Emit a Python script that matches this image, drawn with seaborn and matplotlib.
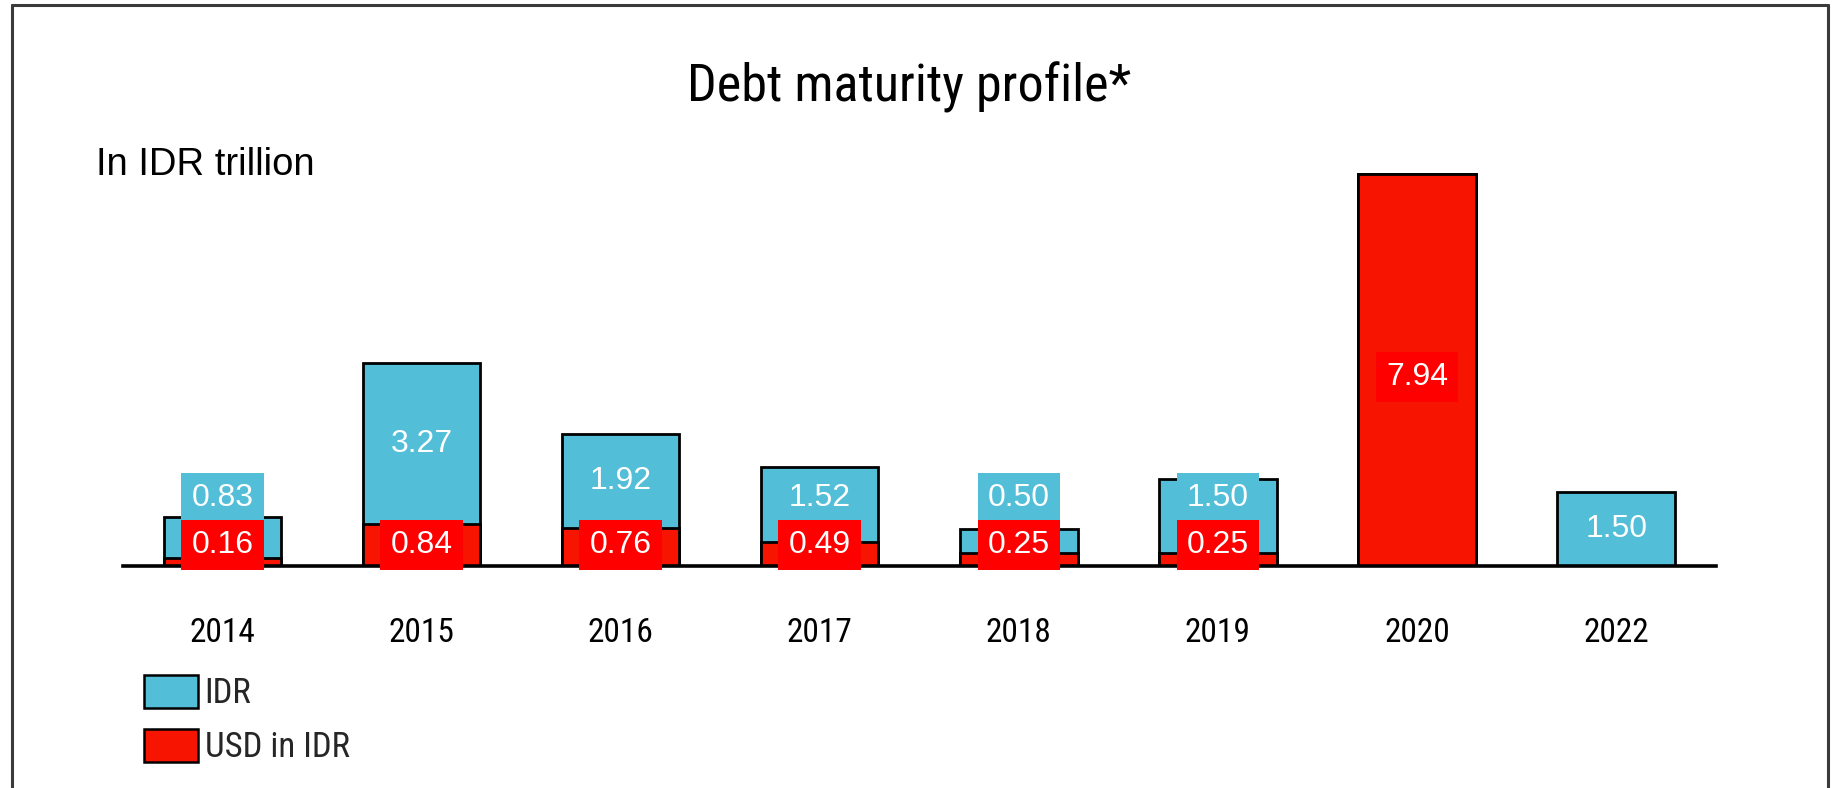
import matplotlib
matplotlib.use("Agg")
import matplotlib.pyplot as plt
import seaborn as sns
import pandas as pd
from matplotlib.lines import Line2D
from matplotlib.patches import Patch

# ---- data ----
years = ["2014", "2015", "2016", "2017", "2018", "2019", "2020", "2022"]
idr = [0.83, 3.27, 1.92, 1.52, 0.50, 1.50, 0.00, 1.50]
usd = [0.16, 0.84, 0.76, 0.49, 0.25, 0.25, 7.94, 0.00]
series_names = ["IDR", "USD in IDR"]
title = "Debt maturity profile*"
unit_label = "In IDR trillion"

CYAN = "#52BED8"
RED_BAR = "#F71400"
RED_LBL = "#FF0000"
NARROW = ["Liberation Sans Narrow", "Roboto Condensed", "Archivo Narrow",
          "PT Sans Narrow", "Pragati Narrow", "Open Sans Condensed", "DejaVu Sans"]
REGULAR = ["Liberation Sans", "DejaVu Sans"]

df = pd.DataFrame({"year": years, "idr": idr, "usd": usd})
df["total"] = df["idr"] + df["usd"]

sns.set_theme(style="white")
plt.rcParams["font.family"] = REGULAR

fig = plt.figure(figsize=(18.33, 7.88), dpi=100)
ax = fig.add_axes([0.067, 0.282, 0.869, 0.501])

sns.barplot(data=df, x="year", y="total", order=years, color=CYAN, saturation=1,
            width=0.59, edgecolor="black", linewidth=2, ax=ax, zorder=2)
sns.barplot(data=df, x="year", y="usd", order=years, color=RED_BAR, saturation=1,
            width=0.59, edgecolor="black", linewidth=2, ax=ax, zorder=3)

ax.set_xlim(-0.5, 7.5)
ax.set_ylim(0, 8)
ax.set_xlabel("")
ax.set_ylabel("")
ax.set_yticks([])
for s in ["left", "right", "top"]:
    ax.spines[s].set_visible(False)
ax.spines["bottom"].set_linewidth(2.6)
ax.spines["bottom"].set_color("black")
ax.spines["bottom"].set_zorder(5)
ax.tick_params(axis="x", length=0, pad=37)
for lbl in ax.get_xticklabels():
    lbl.set_fontfamily(NARROW)
    lbl.set_fontsize(24)
    lbl.set_color("black")

# value labels
RED_LABEL_Y = 0.42
for i, (a, b) in enumerate(zip(idr, usd)):
    box = dict(boxstyle="square,pad=0.32", ec="none")
    if b > 0:
        yb = max(b / 2, RED_LABEL_Y) if b < 2 else b / 2 - 0.15
        ax.text(i, yb, f"{b:.2f}", ha="center", va="center", color="white",
                fontsize=23, zorder=7, bbox=dict(box, fc=RED_LBL))
    if a > 0:
        mid = b + a / 2
        ya = max(mid, RED_LABEL_Y + 0.95) if b > 0 else mid
        ax.text(i, ya, f"{a:.2f}", ha="center", va="center", color="white",
                fontsize=23, zorder=6, bbox=dict(box, fc=CYAN))

# title and unit
fig.text(0.496, 0.889, title, ha="center", va="center", fontsize=37.5,
         family=NARROW, color="black")
fig.text(0.0524, 0.791, unit_label, ha="left", va="center", fontsize=27.5,
         family=REGULAR, color="black")

# legend
handles = [Patch(facecolor=CYAN, edgecolor="black", linewidth=1.8),
           Patch(facecolor=RED_BAR, edgecolor="black", linewidth=1.8)]
leg = fig.legend(handles, series_names, loc="upper left",
                 bbox_to_anchor=(0.0785, 0.143), frameon=False,
                 prop={"family": NARROW, "size": 25},
                 handlelength=1.55, handleheight=1.05, handletextpad=0.2,
                 labelspacing=0.55, borderpad=0, borderaxespad=0)

# outer frame
W, H = 1833, 788
for xs, ys in [((12 / W, 12 / W), (0, 1 - 5 / H)),
               ((12 / W, 1828 / W), (1 - 5 / H, 1 - 5 / H)),
               ((1828 / W, 1828 / W), (0, 1 - 5 / H))]:
    fig.add_artist(Line2D(xs, ys, color="#3a3a3a", linewidth=2.2,
                          transform=fig.transFigure))

fig.savefig("out.png", dpi=100, facecolor="white")
